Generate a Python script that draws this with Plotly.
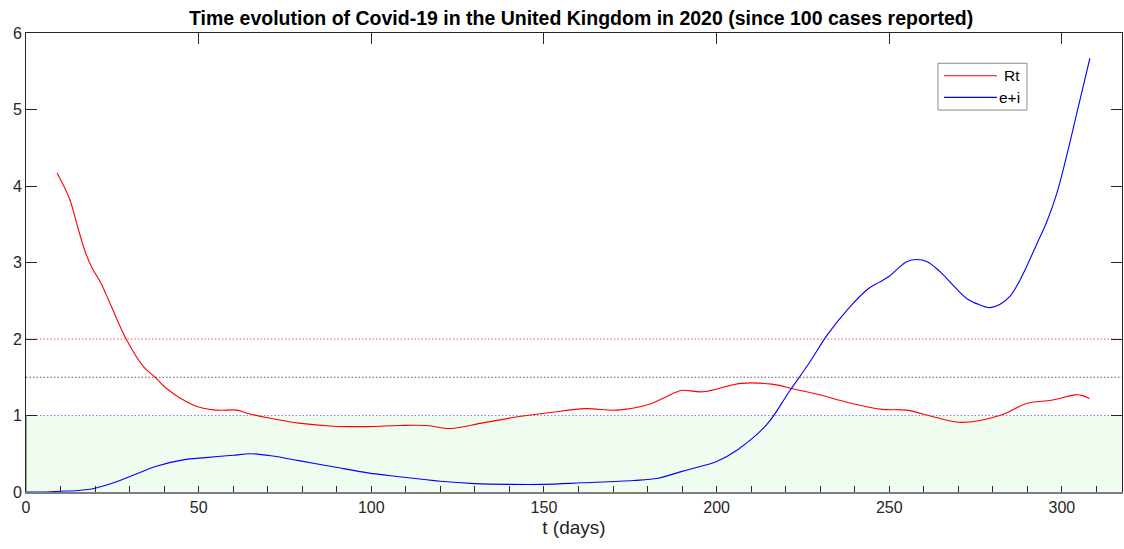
import plotly.graph_objects as go

# Effective reproduction number Rt (days since 100 reported cases)
rt_days = [9, 10.5, 12.7, 15, 17, 19, 21.7, 24.3, 29, 34, 37.4, 40.8, 44.6, 50, 55,
           61, 64, 70, 79, 89, 99, 108, 116, 123, 132, 142, 152, 162, 171, 180,
           188, 190, 196, 207, 216, 222, 229, 239, 248, 255, 263, 271, 282, 290,
           297, 304, 306, 308]
rt_values = [4.17, 4.04, 3.82, 3.46, 3.16, 2.94, 2.73, 2.47, 2.00, 1.64, 1.50, 1.35,
             1.23, 1.11, 1.07, 1.07, 1.03, 0.97, 0.90, 0.86, 0.855, 0.87, 0.87, 0.83,
             0.90, 0.98, 1.04, 1.09, 1.07, 1.14, 1.30, 1.33, 1.31, 1.42, 1.41, 1.35,
             1.28, 1.16, 1.08, 1.07, 0.98, 0.91, 1.00, 1.16, 1.20, 1.27, 1.26, 1.22]

# Exposed + infectious population
ei_days = [0, 5, 10, 15, 20, 26, 31, 38, 45.5, 52, 60, 65, 71.5, 79, 89, 99, 108,
           120, 130, 140, 150, 161, 176, 183, 190, 195, 200, 206, 214.5, 221, 227,
           232, 238.6, 244, 247, 250, 252.5, 255, 258, 261, 264.7, 268.5, 272.4, 276,
           279.2, 282, 285, 287.5, 289.8, 292.5, 295.6, 298.5, 301.4, 304.3, 308.1]
ei_values = [0, 0, 0.01, 0.02, 0.05, 0.13, 0.22, 0.34, 0.42, 0.45, 0.48, 0.50, 0.47,
             0.41, 0.33, 0.25, 0.20, 0.14, 0.11, 0.10, 0.10, 0.12, 0.15, 0.18, 0.27,
             0.33, 0.40, 0.55, 0.88, 1.31, 1.70, 2.05, 2.42, 2.66, 2.74, 2.82, 2.92,
             3.01, 3.04, 3.01, 2.88, 2.70, 2.53, 2.45, 2.41, 2.45, 2.56, 2.74, 2.95,
             3.22, 3.53, 3.90, 4.40, 4.95, 5.67]

x_max = 317.4
y_ticks = [0, 1, 2, 3, 4, 5, 6]
x_ticks = [0, 50, 100, 150, 200, 250, 300]
# threshold levels and their dotted-line colours
ref_levels = [1.0, 1.5, 2.0]
ref_colors = ["rgb(130,130,255)", "rgb(95,95,95)", "rgb(255,80,80)"]

FONT = "Liberation Sans, Arial, sans-serif"
AX = "#262626"

fig = go.Figure()

# dotted threshold lines, drawn beneath the curves
for lvl, col in zip(ref_levels, ref_colors):
    fig.add_trace(go.Scatter(x=[0, x_max], y=[lvl, lvl], mode="lines",
                             line=dict(color=col, width=1.2, dash="1.5px,2px"),
                             hoverinfo="skip", showlegend=False))

fig.add_trace(go.Scatter(x=rt_days, y=rt_values, mode="lines", name="Rt",
                         line=dict(color="rgb(255,0,0)", width=1.1, shape="spline", smoothing=1.0),
                         showlegend=False, xaxis="x", yaxis="y"))
fig.add_trace(go.Scatter(x=ei_days, y=ei_values, mode="lines", name="e+i",
                         line=dict(color="rgb(0,0,255)", width=1.1, shape="spline", smoothing=1.0),
                         showlegend=False, xaxis="x", yaxis="y"))
# invisible trace to carry the top axis
fig.add_trace(go.Scatter(x=[0, x_max], y=[0, 0], mode="lines", line=dict(width=0),
                         hoverinfo="skip", showlegend=False, xaxis="x2", yaxis="y"))

shapes = []
# green region below Rt = 1
shapes.append(dict(type="rect", xref="x", yref="y", x0=0, x1=x_max, y0=0, y1=1,
                   fillcolor="#f1fcf1", line=dict(width=0), layer="below"))
# grey edge of the shaded region on the left axis
shapes.append(dict(type="line", xref="x", yref="y", x0=0, x1=0, y0=0, y1=1,
                   line=dict(color="#8a8a8a", width=1.5)))

# legend box
lx0, lx1, ly0, ly1 = 0.8321, 0.9133, 0.8322, 0.9340
shapes.append(dict(type="rect", xref="paper", yref="paper", x0=lx0, x1=lx1, y0=ly0, y1=ly1,
                   fillcolor="white", line=dict(color="#8c8c8c", width=1)))
shapes.append(dict(type="line", xref="paper", yref="paper", x0=0.8376, x1=0.8859,
                   y0=0.9069, y1=0.9069, line=dict(color="rgb(255,0,0)", width=1.1)))
shapes.append(dict(type="line", xref="paper", yref="paper", x0=0.8376, x1=0.8859,
                   y0=0.8598, y1=0.8598, line=dict(color="rgb(0,0,255)", width=1.1)))

annotations = [
    dict(text="Rt", xref="paper", yref="paper", x=0.9088, y=0.9069, xanchor="right",
         yanchor="middle", showarrow=False, font=dict(family=FONT, size=15.5, color="#000")),
    dict(text="e+i", xref="paper", yref="paper", x=0.9088, y=0.8598, xanchor="right",
         yanchor="middle", showarrow=False, font=dict(family=FONT, size=15.5, color="#000")),
]

fig.update_layout(
    width=1124, height=549,
    margin=dict(l=26, r=2, t=33, b=57),
    paper_bgcolor="white", plot_bgcolor="white",
    font=dict(family=FONT, size=16, color=AX),
    title=dict(text="<b>Time evolution of Covid-19 in the United Kingdom in 2020 (since 100 cases reported)</b>",
               x=0.517, xanchor="center", y=0.967, yanchor="middle",
               font=dict(family=FONT, size=19.5, color="#000")),
    xaxis=dict(range=[0, x_max], tickvals=x_ticks, ticks="inside", ticklen=6, tickcolor=AX,
               showline=True, linecolor="#7f7f7f", linewidth=1.5, mirror=False,
               showgrid=False, zeroline=False,
               minor=dict(dtick=10, tick0=0, ticks="inside", ticklen=6, tickcolor=AX),
               title=dict(text="t (days)", font=dict(size=19, color=AX), standoff=6),
               tickfont=dict(size=16, color=AX)),
    xaxis2=dict(range=[0, x_max], overlaying="x", side="top", tickvals=x_ticks[1:],
                ticks="inside", ticklen=11, tickcolor=AX, showticklabels=False,
                showline=True, linecolor=AX, linewidth=1, showgrid=False, zeroline=False),
    yaxis=dict(range=[0, 6], tickvals=y_ticks, ticks="inside", ticklen=11, tickcolor=AX,
               showline=True, linecolor=AX, linewidth=1, mirror="ticks",
               showgrid=False, zeroline=False, tickfont=dict(size=16, color=AX)),
    shapes=shapes,
    annotations=annotations,
    showlegend=False,
)

fig.write_html("out.html")
